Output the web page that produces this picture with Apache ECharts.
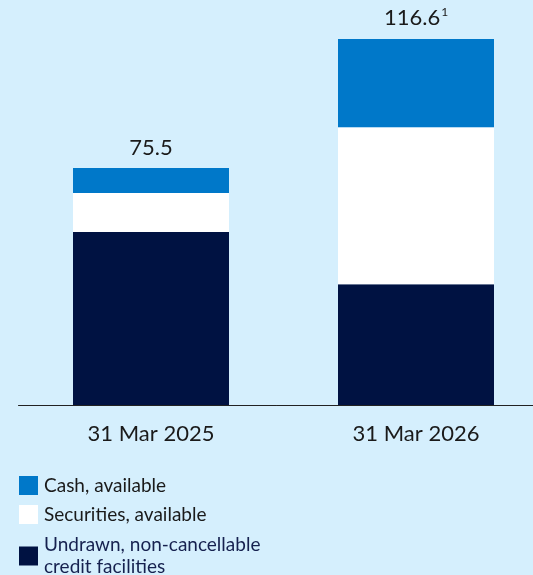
<!DOCTYPE html>
<html>
<head>
<meta charset="utf-8">
<script src="https://cdn.jsdelivr.net/npm/echarts@6/dist/echarts.min.js"></script>
<style>
  html, body { margin: 0; padding: 0; background: #d5effd; }
  #chart { width: 533px; height: 575px; }
</style>
</head>
<body>
<div id="chart"></div>
<script>
// data
var categories = ['31 Mar 2025', '31 Mar 2026'];
var undrawn = [55.1, 38.5];
var securities = [12.4, 50.0];
var cash = [8.0, 28.1];
var totals = ['75.5', '116.6'];
var footnotes = ['', '1'];

var seriesNames = ['Cash, available', 'Securities, available', 'Undrawn, non-cancellable credit facilities'];
var legendTops = [474.5, 503.5, 534];

var myChart = echarts.init(document.getElementById('chart'));

// one legend per item so each row sits where it does in the picture
function makeLegend(i) {
  return {
    orient: 'vertical',
    left: 19,
    top: legendTops[i],
    padding: 0,
    icon: 'rect',
    itemWidth: 19,
    itemHeight: 19,
    data: [seriesNames[i]],
    selectedMode: false,
    formatter: function (name) {
      if (name === seriesNames[2]) return 'Undrawn, non-cancellable\ncredit facilities';
      return name;
    },
    textStyle: {
      fontSize: 19,
      color: i === 2 ? '#16214f' : '#1a1a1a',
      lineHeight: 22,
      padding: [0, 0, 0, 1]
    }
  };
}

var option = {
  backgroundColor: '#d5effd',
  textStyle: { fontFamily: 'Lato' },
  grid: { left: 18.5, width: 530, top: 28.3, bottom: 170, containLabel: false, outerBoundsMode: 'none' },
  legend: [makeLegend(0), makeLegend(1), makeLegend(2)],
  xAxis: {
    type: 'category',
    data: categories,
    axisLine: { lineStyle: { color: '#222', width: 1 } },
    axisTick: { show: false },
    axisLabel: { fontSize: 22, color: '#1a1a1a', margin: 18 }
  },
  yAxis: { type: 'value', min: 0, max: 120, show: false },
  series: [
    {
      name: seriesNames[2], type: 'bar', stack: 'total', barWidth: 156,
      itemStyle: { color: '#001242' }, data: undrawn
    },
    {
      name: seriesNames[1], type: 'bar', stack: 'total', barWidth: 156,
      itemStyle: { color: '#ffffff' }, data: securities
    },
    {
      name: seriesNames[0], type: 'bar', stack: 'total', barWidth: 156,
      itemStyle: { color: '#0078c9' }, data: cash,
      label: {
        show: true, position: 'top', distance: 9,
        formatter: function (p) {
          var s = '{v|' + totals[p.dataIndex] + '}';
          if (footnotes[p.dataIndex]) s += '{s|' + footnotes[p.dataIndex] + '}';
          return s;
        },
        rich: {
          v: { fontSize: 22, color: '#1a1a1a', fontFamily: 'Lato' },
          s: { fontSize: 12, color: '#1a1a1a', fontFamily: 'Lato', verticalAlign: 'top', padding: [0, 0, 12, 1] }
        }
      }
    }
  ]
};

myChart.setOption(option);
</script>
</body>
</html>
